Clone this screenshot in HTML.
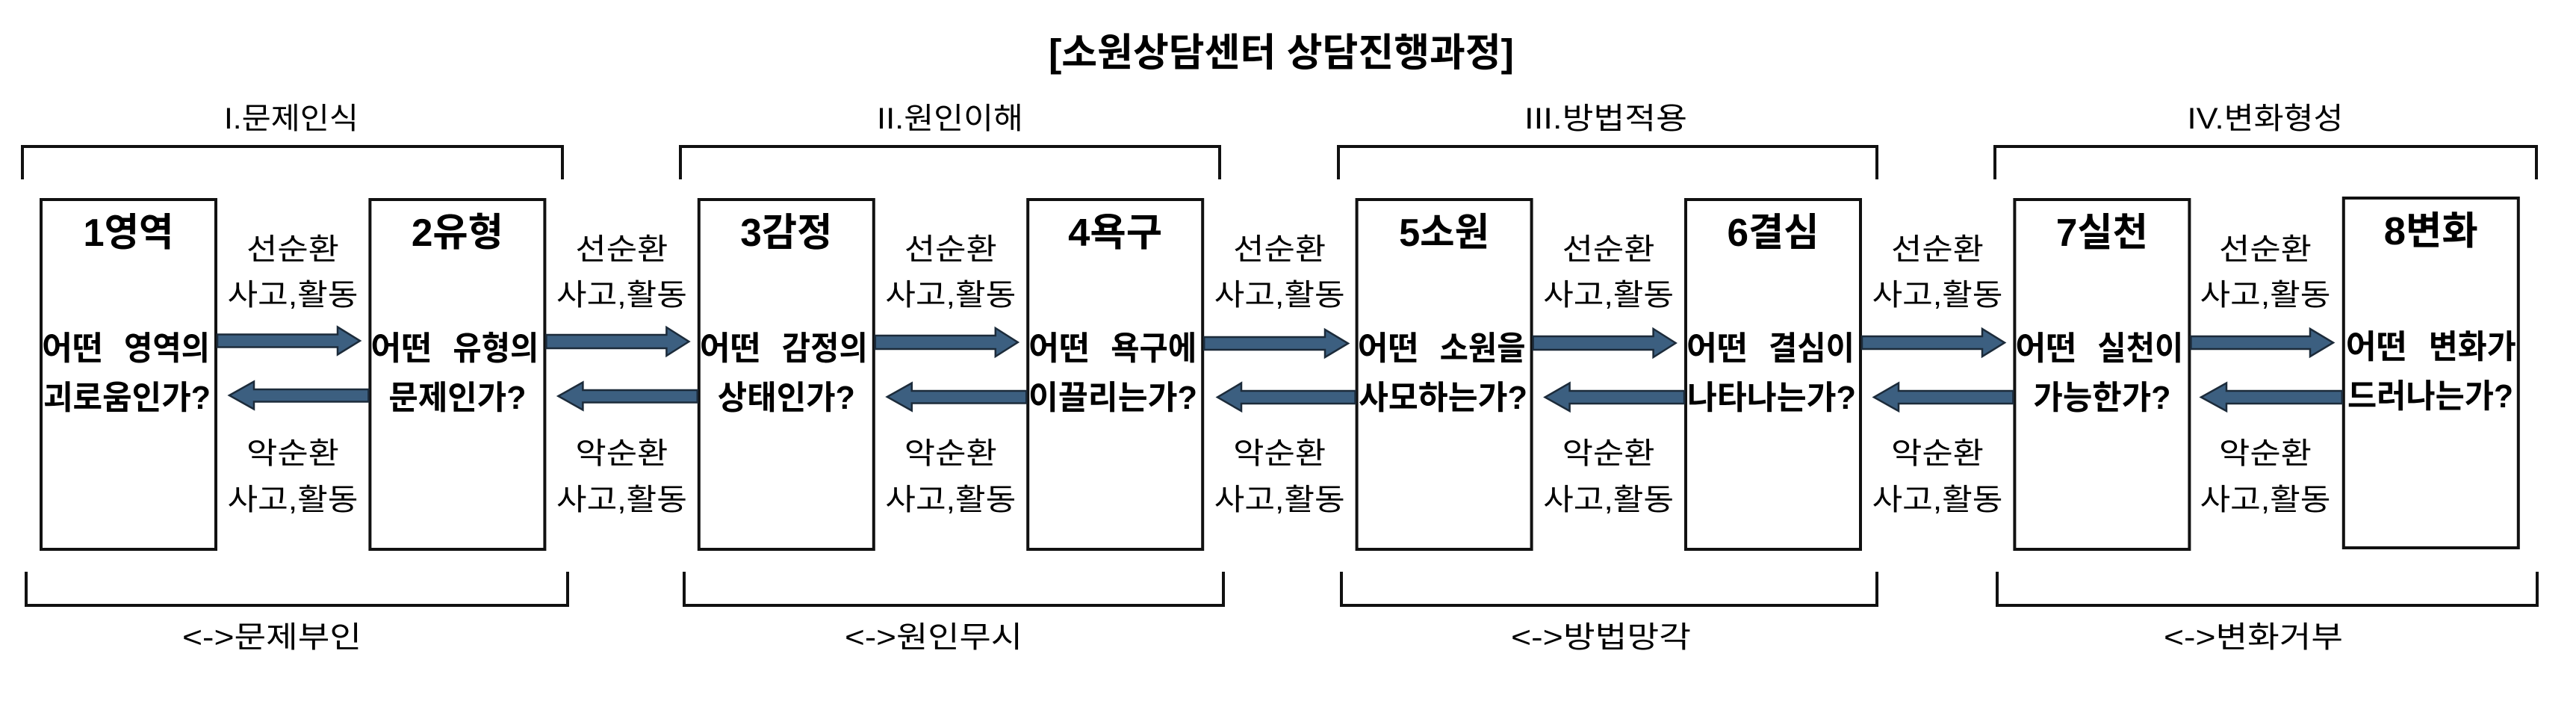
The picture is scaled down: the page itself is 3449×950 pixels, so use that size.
<!DOCTYPE html>
<html lang="ko">
<head>
<meta charset="utf-8">
<style>
  html,body{margin:0;padding:0;background:#fff;}
  body{width:3449px;height:950px;overflow:hidden;}
  svg{display:block;}
  .r{font-family:"Liberation Sans","Noto Sans CJK KR",sans-serif;font-weight:400;fill:#000;}
  .b{font-family:"Liberation Sans","Noto Sans CJK KR",sans-serif;font-weight:700;fill:#000;}
</style>
</head>
<body>
<svg width="3449" height="950" viewBox="0 0 3449 950" xmlns="http://www.w3.org/2000/svg">
  <rect x="0" y="0" width="3449" height="950" fill="#fff"/>

  <!-- Title -->
  <text class="b" font-size="52" x="1404" y="88.5" textLength="623" lengthAdjust="spacingAndGlyphs">[소원상담센터 상담진행과정]</text>

  <!-- Top brackets -->
  <g fill="none" stroke="#111" stroke-width="4" stroke-linejoin="miter">
    <path d="M30,240 V196 H753 V240"/>
    <path d="M911,240 V196 H1633 V240"/>
    <path d="M1792,240 V196 H2513 V240"/>
    <path d="M2671,240 V196 H3396 V240"/>
  </g>
  <!-- Top labels -->
  <g class="r" font-size="40" text-anchor="middle">
    <text x="390" y="172" textLength="180" lengthAdjust="spacingAndGlyphs">I.문제인식</text>
    <text x="1272" y="172" textLength="196" lengthAdjust="spacingAndGlyphs">II.원인이해</text>
    <text x="2150" y="172" textLength="218" lengthAdjust="spacingAndGlyphs">III.방법적용</text>
    <text x="3033" y="172" textLength="209" lengthAdjust="spacingAndGlyphs">IV.변화형성</text>
  </g>

  <!-- Bottom brackets -->
  <g fill="none" stroke="#111" stroke-width="4" stroke-linejoin="miter">
    <path d="M35,765 V810 H760 V765"/>
    <path d="M916,765 V810 H1638 V765"/>
    <path d="M1796,765 V810 H2513 V765"/>
    <path d="M2674,765 V810 H3397 V765"/>
  </g>
  <!-- Bottom labels -->
  <g class="r" font-size="40">
    <text x="244" y="866" textLength="240" lengthAdjust="spacingAndGlyphs">&lt;-&gt;문제부인</text>
    <text x="1131" y="866" textLength="238" lengthAdjust="spacingAndGlyphs">&lt;-&gt;원인무시</text>
    <text x="2023" y="866" textLength="241" lengthAdjust="spacingAndGlyphs">&lt;-&gt;방법망각</text>
    <text x="2897" y="866" textLength="240" lengthAdjust="spacingAndGlyphs">&lt;-&gt;변화거부</text>
  </g>

  <!-- Boxes -->
  <g fill="#fff" stroke="#111" stroke-width="4">
    <rect x="55" y="267" width="234" height="468"/>
    <rect x="495.4" y="267" width="234" height="468"/>
    <rect x="935.8" y="267" width="234" height="468"/>
    <rect x="1376.2" y="267" width="234" height="468"/>
    <rect x="1816.6" y="267" width="234" height="468"/>
    <rect x="2257" y="267" width="234" height="468"/>
    <rect x="2697.4" y="267" width="234" height="468"/>
    <rect x="3137.8" y="265" width="234" height="468"/>
  </g>

  <!-- Right arrows (선순환) -->
  <g fill="#3c5f80" stroke="#1c2b3a" stroke-width="2.5" stroke-linejoin="miter">
    <polygon points="291,447.5 452,447.5 452,437.5 482,456 452,474.5 452,464.5 291,464.5"/>
    <polygon points="731.4,448 892.4,448 892.4,438 922.4,457 892.4,476 892.4,466 731.4,466"/>
    <polygon points="1171.8,449 1332.8,449 1332.8,439 1362.8,458 1332.8,477 1332.8,467 1171.8,467"/>
    <polygon points="1612.2,451 1774,451 1774,441 1805,459.5 1774,478 1774,468 1612.2,468"/>
    <polygon points="2052.6,450 2213.6,450 2213.6,440 2243.6,459 2213.6,478 2213.6,468 2052.6,468"/>
    <polygon points="2493,450 2654,450 2654,440 2684,458.5 2654,477 2654,467 2493,467"/>
    <polygon points="2933.4,450 3093,450 3093,440 3124,458.5 3093,477 3093,467 2933.4,467"/>
  </g>

  <!-- Left arrows (악순환) -->
  <g fill="#3c5f80" stroke="#1c2b3a" stroke-width="2.5" stroke-linejoin="miter">
    <polygon points="493.4,521 340,521 340,510.5 307,529 340,547.5 340,537.5 493.4,537.5"/>
    <polygon points="933.8,522 780.4,522 780.4,511.5 747.4,530 780.4,548.5 780.4,538.5 933.8,538.5"/>
    <polygon points="1374.2,523 1220.8,523 1220.8,512.5 1187.8,531 1220.8,549.5 1220.8,539.5 1374.2,539.5"/>
    <polygon points="1814.6,523 1662,523 1662,512.5 1630,531.5 1662,550 1662,540 1814.6,540"/>
    <polygon points="2255,523 2101.6,523 2101.6,512.5 2068.6,531.5 2101.6,550 2101.6,540 2255,540"/>
    <polygon points="2695.4,523 2542,523 2542,512.5 2509,531.5 2542,550 2542,540 2695.4,540"/>
    <polygon points="3135.8,523 2981,523 2981,512.5 2947,531.5 2981,550 2981,540 3135.8,540"/>
  </g>

  <!-- Box headers -->
  <g class="b" font-size="52" text-anchor="middle">
    <text x="172" y="329" textLength="121" lengthAdjust="spacingAndGlyphs">1영역</text>
    <text x="612.4" y="329" textLength="123" lengthAdjust="spacingAndGlyphs">2유형</text>
    <text x="1052.8" y="329" textLength="123" lengthAdjust="spacingAndGlyphs">3감정</text>
    <text x="1493.2" y="329" textLength="126" lengthAdjust="spacingAndGlyphs">4욕구</text>
    <text x="1933.6" y="329" textLength="121" lengthAdjust="spacingAndGlyphs">5소원</text>
    <text x="2374" y="329" textLength="123" lengthAdjust="spacingAndGlyphs">6결심</text>
    <text x="2814.4" y="329" textLength="123" lengthAdjust="spacingAndGlyphs">7실천</text>
    <text x="3254.8" y="327" textLength="126" lengthAdjust="spacingAndGlyphs">8변화</text>
  </g>

  <!-- Box body line 1 : "어떤" + word -->
  <g class="b" font-size="44">
    <text x="56" y="481" textLength="82" lengthAdjust="spacingAndGlyphs">어떤</text>
    <text x="166" y="481" textLength="115" lengthAdjust="spacingAndGlyphs">영역의</text>

    <text x="496.4" y="481" textLength="82" lengthAdjust="spacingAndGlyphs">어떤</text>
    <text x="606.4" y="481" textLength="115" lengthAdjust="spacingAndGlyphs">유형의</text>

    <text x="936.8" y="481" textLength="82" lengthAdjust="spacingAndGlyphs">어떤</text>
    <text x="1046.8" y="481" textLength="115" lengthAdjust="spacingAndGlyphs">감정의</text>

    <text x="1377.2" y="481" textLength="82" lengthAdjust="spacingAndGlyphs">어떤</text>
    <text x="1487.2" y="481" textLength="115" lengthAdjust="spacingAndGlyphs">욕구에</text>

    <text x="1817.6" y="481" textLength="82" lengthAdjust="spacingAndGlyphs">어떤</text>
    <text x="1927.6" y="481" textLength="115" lengthAdjust="spacingAndGlyphs">소원을</text>

    <text x="2258" y="481" textLength="82" lengthAdjust="spacingAndGlyphs">어떤</text>
    <text x="2368" y="481" textLength="115" lengthAdjust="spacingAndGlyphs">결심이</text>

    <text x="2698.4" y="481" textLength="82" lengthAdjust="spacingAndGlyphs">어떤</text>
    <text x="2808.4" y="481" textLength="115" lengthAdjust="spacingAndGlyphs">실천이</text>

    <text x="3140.8" y="479" textLength="82" lengthAdjust="spacingAndGlyphs">어떤</text>
    <text x="3251.8" y="479" textLength="117" lengthAdjust="spacingAndGlyphs">변화가</text>
  </g>

  <!-- Box body line 2 -->
  <g class="b" font-size="44" text-anchor="middle">
    <text x="170" y="547" textLength="224" lengthAdjust="spacingAndGlyphs">괴로움인가?</text>
    <text x="612.4" y="547" textLength="184" lengthAdjust="spacingAndGlyphs">문제인가?</text>
    <text x="1052.8" y="547" textLength="184" lengthAdjust="spacingAndGlyphs">상태인가?</text>
    <text x="1490" y="547" textLength="226" lengthAdjust="spacingAndGlyphs">이끌리는가?</text>
    <text x="1932" y="547" textLength="226" lengthAdjust="spacingAndGlyphs">사모하는가?</text>
    <text x="2372" y="547" textLength="226" lengthAdjust="spacingAndGlyphs">나타나는가?</text>
    <text x="2814.4" y="547" textLength="184" lengthAdjust="spacingAndGlyphs">가능한가?</text>
    <text x="3254" y="545" textLength="222" lengthAdjust="spacingAndGlyphs">드러나는가?</text>
  </g>

  <!-- Connector labels -->
  <g class="r" font-size="40" text-anchor="middle">
    <text x="392" y="347" textLength="124" lengthAdjust="spacingAndGlyphs">선순환</text>
    <text x="392" y="408" textLength="175" lengthAdjust="spacingAndGlyphs">사고,활동</text>
    <text x="392" y="620" textLength="124" lengthAdjust="spacingAndGlyphs">악순환</text>
    <text x="392" y="682" textLength="175" lengthAdjust="spacingAndGlyphs">사고,활동</text>

    <text x="832.4" y="347" textLength="124" lengthAdjust="spacingAndGlyphs">선순환</text>
    <text x="832.4" y="408" textLength="175" lengthAdjust="spacingAndGlyphs">사고,활동</text>
    <text x="832.4" y="620" textLength="124" lengthAdjust="spacingAndGlyphs">악순환</text>
    <text x="832.4" y="682" textLength="175" lengthAdjust="spacingAndGlyphs">사고,활동</text>

    <text x="1272.8" y="347" textLength="124" lengthAdjust="spacingAndGlyphs">선순환</text>
    <text x="1272.8" y="408" textLength="175" lengthAdjust="spacingAndGlyphs">사고,활동</text>
    <text x="1272.8" y="620" textLength="124" lengthAdjust="spacingAndGlyphs">악순환</text>
    <text x="1272.8" y="682" textLength="175" lengthAdjust="spacingAndGlyphs">사고,활동</text>

    <text x="1713.2" y="347" textLength="124" lengthAdjust="spacingAndGlyphs">선순환</text>
    <text x="1713.2" y="408" textLength="175" lengthAdjust="spacingAndGlyphs">사고,활동</text>
    <text x="1713.2" y="620" textLength="124" lengthAdjust="spacingAndGlyphs">악순환</text>
    <text x="1713.2" y="682" textLength="175" lengthAdjust="spacingAndGlyphs">사고,활동</text>

    <text x="2153.6" y="347" textLength="124" lengthAdjust="spacingAndGlyphs">선순환</text>
    <text x="2153.6" y="408" textLength="175" lengthAdjust="spacingAndGlyphs">사고,활동</text>
    <text x="2153.6" y="620" textLength="124" lengthAdjust="spacingAndGlyphs">악순환</text>
    <text x="2153.6" y="682" textLength="175" lengthAdjust="spacingAndGlyphs">사고,활동</text>

    <text x="2594" y="347" textLength="124" lengthAdjust="spacingAndGlyphs">선순환</text>
    <text x="2594" y="408" textLength="175" lengthAdjust="spacingAndGlyphs">사고,활동</text>
    <text x="2594" y="620" textLength="124" lengthAdjust="spacingAndGlyphs">악순환</text>
    <text x="2594" y="682" textLength="175" lengthAdjust="spacingAndGlyphs">사고,활동</text>

    <text x="3033" y="347" textLength="124" lengthAdjust="spacingAndGlyphs">선순환</text>
    <text x="3033" y="408" textLength="175" lengthAdjust="spacingAndGlyphs">사고,활동</text>
    <text x="3033" y="620" textLength="124" lengthAdjust="spacingAndGlyphs">악순환</text>
    <text x="3033" y="682" textLength="175" lengthAdjust="spacingAndGlyphs">사고,활동</text>
  </g>
</svg>
</body>
</html>
